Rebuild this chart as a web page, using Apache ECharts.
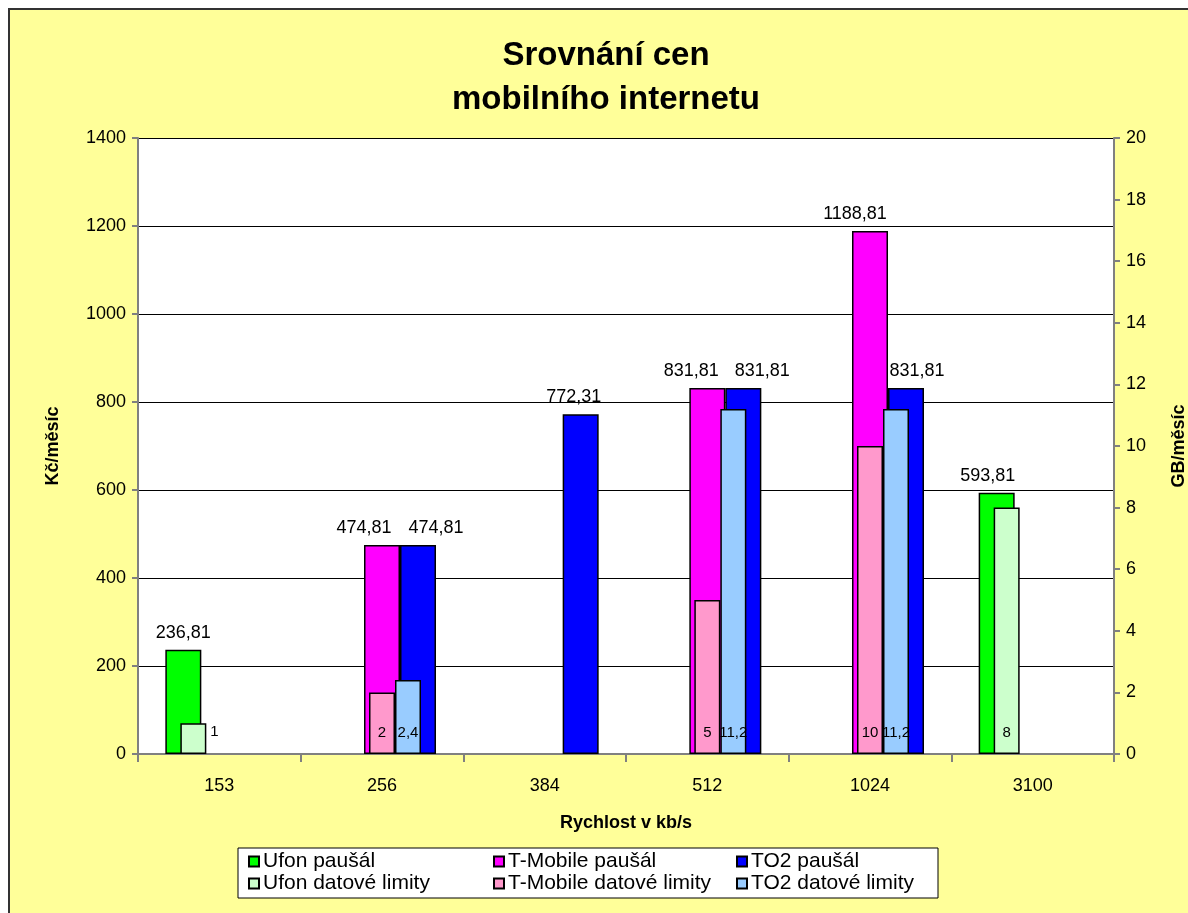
<!DOCTYPE html>
<html>
<head>
<meta charset="utf-8">
<script src="https://cdn.jsdelivr.net/npm/echarts@6/dist/echarts.min.js"></script>
<style>
html,body{margin:0;padding:0;background:#fff;overflow:hidden;}
#c{width:1188px;height:913px;}
</style>
</head>
<body>
<div id="c"></div>
<script>
const categories = ['153', '256', '384', '512', '1024', '3100'];
const ufonPausal = [236.81, null, null, null, null, 593.81];
const tmobilePausal = [null, 474.81, null, 831.81, 1188.81, null];
const to2Pausal = [null, 474.81, 772.31, 831.81, 831.81, null];
const ufonLimity = [1, null, null, null, null, 8];
const tmobileLimity = [null, 2, null, 5, 10, null];
const to2Limity = [null, 2.4, null, 11.2, 11.2, null];
const leftTicks = [0, 1400, 200];
const rightTicks = [0, 20, 2];

// label horizontal nudges (style only), mimicking the original's label placement
const ufonLabelDx = [0, 0, 0, 0, 0, -9];
const tmobileLabelDx = [0, -18, 0, -16, -15, 0];
const to2LabelDx = [0, 18, -7, 19, 11, 0];

const FONT = "'Liberation Sans', Arial, sans-serif";
const fmt = v => String(v.value).replace('.', ',');

function withOffsets(data, dx) {
  return data.map((v, i) => v == null ? null : { value: v, label: { offset: [dx[i], 0] } });
}

function primary(name, data, color, dx) {
  return {
    name, type: 'bar', xAxisIndex: 0, yAxisIndex: 0, data: withOffsets(data, dx),
    barWidth: 36, barGap: '0%',
    itemStyle: { color, borderColor: '#000', borderWidth: 1.5 },
    label: { show: true, position: 'top', distance: 8, formatter: fmt,
      fontFamily: FONT, fontSize: 18, color: '#000' },
    emphasis: { disabled: true }
  };
}
function secondary(name, data, color) {
  return {
    name, type: 'bar', xAxisIndex: 1, yAxisIndex: 1, data,
    barWidth: 26, barGap: '0%',
    itemStyle: { color, borderColor: '#000', borderWidth: 1.5 },
    label: { show: true, position: 'insideBottom', distance: 14, formatter: fmt,
      fontFamily: FONT, fontSize: 15, color: '#000' },
    emphasis: { disabled: true }
  };
}

const chart = echarts.init(document.getElementById('c'), null, { renderer: 'canvas' });

const legendRows = [
  ['Ufon paušál', 'T-Mobile paušál', 'TO2 paušál'],
  ['Ufon datové limity', 'T-Mobile datové limity', 'TO2 datové limity']
];
const legendX = [248, 493, 736];
const legendY = [851, 873];
const legends = [];
legendRows.forEach((row, r) => row.forEach((name, c) => {
  legends.push({
    data: [name], left: legendX[c], top: legendY[r], padding: 0, z: 10,
    icon: 'rect', itemWidth: 10, itemHeight: 10, itemGap: 0,
    selectedMode: false,
    textStyle: { fontFamily: FONT, fontSize: 21, color: '#000', padding: [0, 0, 0, -1] }
  });
}));

const ufonSecondary = secondary('Ufon datové limity', ufonLimity, '#CCFFCC');
ufonSecondary.data = ufonLimity.map((v, i) => i === 0 && v != null
  ? { value: v, label: { position: 'right', distance: 4, offset: [0, -7] } } : v);

chart.setOption({
  backgroundColor: '#fff',
  animation: false,
  textStyle: { fontFamily: FONT },
  graphic: [
    { type: 'rect', z: -10, shape: { x: 9, y: 9, width: 1200, height: 920 },
      style: { fill: '#FFFF99', stroke: '#333', lineWidth: 2 } },
    { type: 'rect', z: 1, shape: { x: 238, y: 848, width: 700, height: 50 },
      style: { fill: '#fff', stroke: '#000', lineWidth: 1 } }
  ],
  title: {
    text: 'Srovnání cen\nmobilního internetu',
    left: 601, top: 29, textAlign: 'center',
    textStyle: { fontFamily: FONT, fontSize: 33, fontWeight: 'bold', color: '#000', lineHeight: 44 }
  },
  legend: legends,
  grid: { left: 138, right: 74, top: 138, bottom: 159, show: true,
    backgroundColor: '#fff', borderWidth: 0, outerBoundsMode: 'none', containLabel: false },
  xAxis: [
    { type: 'category', data: categories, position: 'bottom',
      name: 'Rychlost v kb/s', nameLocation: 'middle', nameGap: 60,
      nameTextStyle: { fontFamily: FONT, fontSize: 18, fontWeight: 'bold', color: '#000' },
      axisLine: { lineStyle: { color: '#808080', width: 2 } },
      axisTick: { show: true, length: 8, lineStyle: { color: '#808080', width: 2 } },
      axisLabel: { fontFamily: FONT, fontSize: 18, color: '#000', margin: 23 },
      splitLine: { show: false } },
    { type: 'category', data: categories, show: false }
  ],
  yAxis: [
    { type: 'value', min: leftTicks[0], max: leftTicks[1], interval: leftTicks[2],
      name: 'Kč/měsíc', nameLocation: 'middle', nameGap: 76, nameRotate: 90,
      nameTextStyle: { fontFamily: FONT, fontSize: 18, fontWeight: 'bold', color: '#000' },
      axisLine: { show: true, lineStyle: { color: '#808080', width: 2 } },
      axisTick: { show: true, length: 6, lineStyle: { color: '#808080', width: 2 } },
      axisLabel: { fontFamily: FONT, fontSize: 18, color: '#000', margin: 12, formatter: v => String(v) },
      splitLine: { show: true, lineStyle: { color: '#000', width: 1 } } },
    { type: 'value', min: rightTicks[0], max: rightTicks[1], interval: rightTicks[2],
      position: 'right',
      name: 'GB/měsíc', nameLocation: 'middle', nameGap: 56, nameRotate: 90,
      nameTextStyle: { fontFamily: FONT, fontSize: 18, fontWeight: 'bold', color: '#000' },
      axisLine: { show: true, lineStyle: { color: '#808080', width: 2 } },
      axisTick: { show: true, length: 6, lineStyle: { color: '#808080', width: 2 } },
      axisLabel: { fontFamily: FONT, fontSize: 18, color: '#000', margin: 12, formatter: v => String(v) },
      splitLine: { show: false } }
  ],
  series: [
    primary('Ufon paušál', ufonPausal, '#00FF00', ufonLabelDx),
    primary('T-Mobile paušál', tmobilePausal, '#FF00FF', tmobileLabelDx),
    primary('TO2 paušál', to2Pausal, '#0000FF', to2LabelDx),
    ufonSecondary,
    secondary('T-Mobile datové limity', tmobileLimity, '#FF99CC'),
    secondary('TO2 datové limity', to2Limity, '#99CCFF')
  ]
});
</script>
</body>
</html>
